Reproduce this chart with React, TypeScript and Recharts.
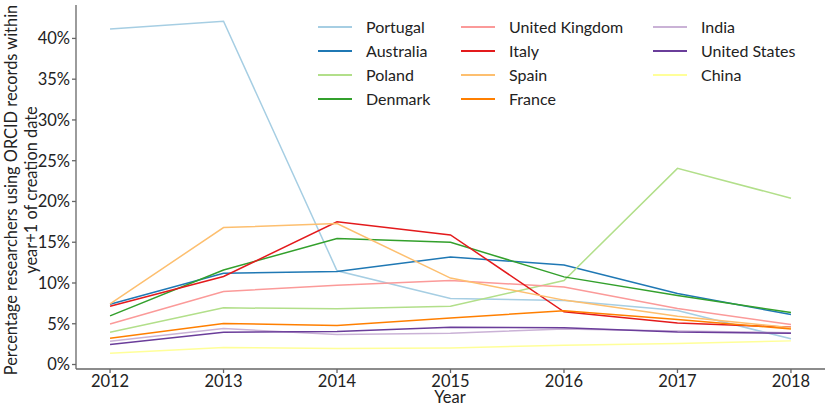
import React from "react";
import { LineChart, Line, XAxis, YAxis } from "recharts";

const years = [2012, 2013, 2014, 2015, 2016, 2017, 2018];
const yTicks = [0, 5, 10, 15, 20, 25, 30, 35, 40];

const portugal = [41.15, 42.1, 11.5, 8.09, 7.85, 6.62, 3.15];
const australia = [7.4, 11.2, 11.4, 13.2, 12.2, 8.7, 6.13];
const poland = [3.96, 6.95, 6.83, 7.15, 10.3, 24.06, 20.4];
const denmark = [5.96, 11.6, 15.45, 15.0, 10.75, 8.46, 6.37];
const unitedKingdom = [4.98, 8.95, 9.72, 10.3, 9.52, 6.86, 4.9];
const italy = [7.15, 10.8, 17.5, 15.9, 6.46, 5.1, 4.58];
const spain = [7.44, 16.8, 17.3, 10.6, 7.9, 5.93, 4.5];
const france = [3.23, 5.03, 4.78, 5.72, 6.58, 5.52, 4.37];
const india = [2.86, 4.41, 3.68, 3.84, 4.37, 4.1, 3.9];
const unitedStates = [2.45, 3.96, 4.05, 4.58, 4.5, 4.0, 3.84];
const china = [1.39, 2.08, 1.96, 2.04, 2.37, 2.57, 2.9];

const seriesNames = [
  "Portugal",
  "Australia",
  "Poland",
  "Denmark",
  "United Kingdom",
  "Italy",
  "Spain",
  "France",
  "India",
  "United States",
  "China",
];
const seriesValues = [
  portugal,
  australia,
  poland,
  denmark,
  unitedKingdom,
  italy,
  spain,
  france,
  india,
  unitedStates,
  china,
];
const seriesColors = [
  "#a6cee3",
  "#1f78b4",
  "#b2df8a",
  "#33a02c",
  "#fb9a99",
  "#e31a1c",
  "#fdbf6f",
  "#ff7f00",
  "#cab2d6",
  "#6a3d9a",
  "#ffff99",
];

const data = years.map((year, i) => {
  const row: Record<string, number> = { year };
  seriesNames.forEach((name, s) => {
    row[name] = seriesValues[s][i];
  });
  return row;
});

const FONT = "Lato, 'DejaVu Sans', sans-serif";
const AXIS = "#666666";

const CustomLegend = () => {
  const cols = [seriesNames.slice(0, 4), seriesNames.slice(4, 8), seriesNames.slice(8)];
  const colWidths = [143, 192, 140];
  return (
    <div
      style={{
        position: "absolute",
        left: 318,
        top: 15,
        display: "flex",
        fontFamily: FONT,
        fontSize: 16,
        color: "#222",
      }}
    >
      {cols.map((col, ci) => (
        <div key={ci} style={{ width: colWidths[ci], flexShrink: 0 }}>
          {col.map((name) => {
            const idx = seriesNames.indexOf(name);
            return (
              <div key={name} style={{ display: "flex", alignItems: "center", height: 23.9 }}>
                <div
                  style={{
                    width: 34,
                    flexShrink: 0,
                    height: 0,
                    borderTop: `2px solid ${seriesColors[idx]}`,
                    marginRight: 14,
                  }}
                />
                <span style={{ whiteSpace: "nowrap" }}>{name}</span>
              </div>
            );
          })}
        </div>
      ))}
    </div>
  );
};

const YLabel = () => (
  <text
    transform="rotate(-90, 22, 190)"
    x={22}
    y={190}
    textAnchor="middle"
    fontFamily={FONT}
    fontSize={16.4}
    fill="#222"
  >
    <tspan x={22} dy={-5}>Percentage researchers using ORCID records within</tspan>
    <tspan x={22} dy={20}>year+1 of creation date</tspan>
  </text>
);

const XLabel = () => (
  <text x={450} y={403} textAnchor="middle" fontFamily={FONT} fontSize={16.5} fill="#222">
    Year
  </text>
);

export default function App() {
  return (
    <div style={{ position: "absolute", left: 0, top: 0, width: 829, height: 409, background: "#fff" }}>
      <LineChart width={829} height={409} data={data} margin={{ top: 5, right: 4, bottom: 0, left: 0 }}>
        <XAxis
          dataKey="year"
          type="number"
          domain={[2011.7, 2018.3]}
          ticks={years}
          allowDataOverflow
          height={40}
          stroke={AXIS}
          strokeWidth={1.3}
          tickSize={4}
          tick={{ fill: "#222", fontFamily: FONT, fontSize: 16.5 }}
          label={{ content: () => <XLabel /> }}
        />
        <XAxis xAxisId="top" orientation="top" dataKey="year" type="number" domain={[2011.7, 2018.3]} height={0} tick={false} tickLine={false} stroke={AXIS} strokeWidth={1.3} />
        <YAxis
          type="number"
          domain={[-0.55, 44.1]}
          ticks={yTicks}
          allowDataOverflow
          width={76}
          stroke={AXIS}
          strokeWidth={1.3}
          tickSize={4}
          tickFormatter={(v: number) => `${v}%`}
          tick={{ fill: "#222", fontFamily: FONT, fontSize: 16.5 }}
          label={{ content: () => <YLabel /> }}
        />
        <YAxis yAxisId="right" orientation="right" domain={[-0.55, 44.1]} width={0} tick={false} tickLine={false} stroke={AXIS} strokeWidth={1.3} />
        {seriesNames.map((name, i) => (
          <Line
            key={name}
            type="linear"
            dataKey={name}
            stroke={seriesColors[i]}
            strokeWidth={1.5}
            dot={false}
            activeDot={false}
            isAnimationActive={false}
          />
        ))}
      </LineChart>
      <CustomLegend />
    </div>
  );
}
